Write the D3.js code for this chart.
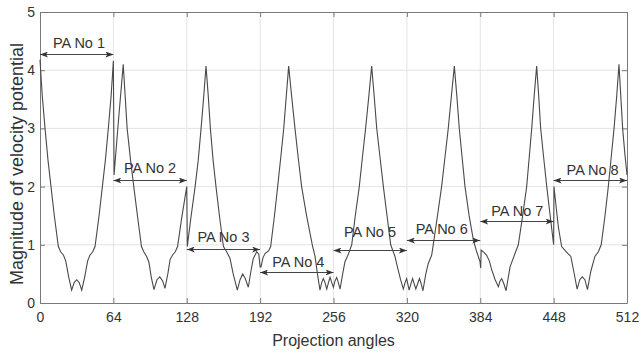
<!DOCTYPE html>
<html>
<head>
<meta charset="utf-8">
<script src="https://cdn.jsdelivr.net/npm/d3@7"></script>
<style>
  body { margin: 0; background: #fff; }
  text { font-family: "Liberation Sans", Arial, sans-serif; fill: #333; }
</style>
</head>
<body>
<div id="chart"></div>
<script>
var w = 641;
var h = 354;

// projection angle (x) and magnitude (y), vertex by vertex
var angles = [
  0, 2, 4.4, 7, 9.6, 12.5, 16, 18, 20.5, 22.5, 25, 27.6, 29.8, 32, 34.2, 36.4, 39, 41.5, 43.5, 46, 48, 51.5, 54.4, 57, 59.6, 62, 64,
  64.6, 68.5, 72.6, 76, 79, 81.8, 85, 88.5, 90.5, 93, 95, 97, 99.4, 102, 104.5, 107, 109, 111.5, 113.5, 115.5, 118, 120, 123.5, 128,
  128.5, 131.5, 135.3, 138, 140.5, 142.8, 144.8, 146.8, 148.6, 151, 153.5, 156.5, 160, 162.8, 165.7, 168.5, 172.1, 174.5, 176.8, 179, 181.7, 184, 186, 189, 190.8, 192,
  192.8, 194.5, 196.3, 199.5, 201.2, 204.5, 207.3, 210, 212.6, 214.8, 216.9, 219.5, 222.4, 225.2, 228.2, 232.5, 237.5, 239.9, 242, 244.2, 245.7, 247.1, 248.6, 250.1, 251.6, 253, 254.5, 255.9,
  257.3, 258.8, 260.2, 261.7, 264, 266, 269, 271.9, 275, 278.5, 281.2, 284, 286.8, 289.3, 291.5, 293.7, 296.6, 299.5, 302.7, 305.9, 309.6, 312, 314.5, 316.9, 318.4, 319.8,
  320.9, 322, 323.5, 325, 326.4, 327.8, 329.4, 331, 332.5, 334, 336.5, 338.7, 341.6, 343, 346.7, 350.3, 353.2, 356.1, 358.8, 361.4, 363.6, 365.7, 368.2, 370.7, 374.3, 378, 380.9, 383.8, 384.4,
  384.8, 387.2, 389.6, 392, 394, 397, 399.8, 401.3, 402.7, 404.6, 406.5, 410, 414.3, 417.2, 421, 424.5, 426.7, 428.9, 431, 433.2, 435, 436.7, 439.3, 442, 445, 448,
  448.3, 450.2, 452.1, 455, 459, 463, 465.5, 468.5, 470.8, 473, 475.3, 477.5, 480.5, 484, 487, 489.5, 492.8, 495.7, 498.2, 500.7, 503, 505, 506.6, 508.2, 510.2, 512
];
var magnitude = [
  4.18, 3.55, 3.0, 2.45, 2.0, 1.5, 0.97, 0.88, 0.82, 0.72, 0.45, 0.22, 0.35, 0.4, 0.35, 0.22, 0.45, 0.72, 0.82, 0.88, 0.97, 1.5, 2.0, 2.45, 3.0, 3.55, 4.16,
  2.2, 3.15, 4.1, 3.0, 2.45, 2.0, 1.5, 0.97, 0.88, 0.8, 0.7, 0.45, 0.23, 0.4, 0.45, 0.38, 0.25, 0.5, 0.75, 0.82, 0.88, 0.97, 1.45, 2.0,
  0.97, 1.45, 2.0, 2.45, 3.0, 3.55, 4.07, 3.55, 3.0, 2.45, 2.0, 1.5, 0.97, 0.88, 0.77, 0.5, 0.22, 0.4, 0.5, 0.42, 0.27, 0.55, 0.76, 0.88, 0.84, 0.62,
  0.62, 0.78, 0.85, 0.9, 0.97, 1.5, 2.0, 2.5, 3.0, 3.55, 4.07, 3.55, 3.0, 2.5, 2.0, 1.5, 1.0, 0.8, 0.5, 0.22, 0.35, 0.42, 0.35, 0.24, 0.35, 0.44, 0.35, 0.27,
  0.38, 0.44, 0.35, 0.24, 0.5, 0.71, 0.84, 1.0, 1.5, 2.0, 2.5, 3.0, 3.55, 4.07, 3.55, 3.0, 2.5, 2.0, 1.5, 1.0, 0.8, 0.6, 0.4, 0.24, 0.35, 0.42,
  0.32, 0.22, 0.33, 0.42, 0.33, 0.24, 0.33, 0.42, 0.33, 0.21, 0.5, 0.68, 0.82, 1.0, 1.5, 2.0, 2.5, 3.0, 3.55, 4.07, 3.55, 3.0, 2.5, 2.0, 1.5, 1.08, 0.88, 0.71, 0.6,
  0.91, 0.87, 0.82, 0.72, 0.57, 0.4, 0.28, 0.38, 0.42, 0.33, 0.21, 0.62, 0.85, 1.0, 1.5, 2.0, 2.5, 3.0, 3.55, 4.07, 3.55, 3.0, 2.5, 2.0, 1.5, 1.0,
  2.0, 1.65, 1.31, 0.97, 0.88, 0.8, 0.55, 0.24, 0.4, 0.45, 0.4, 0.23, 0.55, 0.8, 0.88, 1.0, 1.5, 2.0, 2.5, 3.0, 3.55, 4.1, 3.55, 3.0, 2.55, 2.2
];

var xTicks = [0, 64, 128, 192, 256, 320, 384, 448, 512];
var yTicks = [0, 1, 2, 3, 4, 5];

// PA annotations: span start/end angle, arrow level, label angle, label level
var paNames = ["PA No 1", "PA No 2", "PA No 3", "PA No 4", "PA No 5", "PA No 6", "PA No 7", "PA No 8"];
var paStart = [0, 64, 128, 192, 256, 320, 384, 448];
var paEnd = [64, 128, 192, 256, 320, 384, 448, 512];
var paLevel = [4.27, 2.12, 0.93, 0.54, 0.91, 1.08, 1.41, 2.11];
var paTextX = [34, 96, 160, 225.3, 287.8, 350.4, 416.3, 482];
var paTextY = [4.39, 2.23, 1.05, 0.62, 1.13, 1.19, 1.5, 2.2];

var svg = d3.select("#chart").append("svg").attr("width", w).attr("height", h);

var x = d3.scaleLinear().domain([0, 512]).range([40, 627]);
var y = d3.scaleLinear().domain([0, 5]).range([303, 12]);

// grid
svg.append("g").selectAll("line").data(xTicks.slice(1, -1)).enter().append("line")
  .attr("x1", function(d) { return x(d); }).attr("x2", function(d) { return x(d); })
  .attr("y1", y(0)).attr("y2", y(5))
  .attr("stroke", "#e3e3e3").attr("stroke-width", 1);
svg.append("g").selectAll("line").data(yTicks.slice(1, -1)).enter().append("line")
  .attr("y1", function(d) { return y(d); }).attr("y2", function(d) { return y(d); })
  .attr("x1", x(0)).attr("x2", x(512))
  .attr("stroke", "#e3e3e3").attr("stroke-width", 1);

// axes (matlab style: ticks inside, box all round)
var xAxis = d3.axisBottom(x).tickValues(xTicks).tickSizeInner(-5).tickSizeOuter(0).tickPadding(9).tickFormat(d3.format("d"));
var yAxis = d3.axisLeft(y).tickValues(yTicks).tickSizeInner(-5).tickSizeOuter(0).tickPadding(5).tickFormat(d3.format("d"));
var gx = svg.append("g").attr("transform", "translate(0," + y(0) + ")").call(xAxis);
var gy = svg.append("g").attr("transform", "translate(" + x(0) + ",0)").call(yAxis);
var gx2 = svg.append("g").attr("transform", "translate(0," + y(5) + ")")
  .call(d3.axisTop(x).tickValues(xTicks).tickSizeInner(-5).tickSizeOuter(0).tickFormat(""));
var gy2 = svg.append("g").attr("transform", "translate(" + x(512) + ",0)")
  .call(d3.axisRight(y).tickValues(yTicks).tickSizeInner(-5).tickSizeOuter(0).tickFormat(""));

[gx, gy, gx2, gy2].forEach(function(g) {
  g.select(".domain").attr("stroke", "#7a7a7a");
  g.selectAll(".tick line").attr("stroke", "#7a7a7a");
  g.selectAll("text").attr("font-size", 14).attr("fill", "#333")
    .attr("font-family", "Liberation Sans, Arial, sans-serif");
});

// the curve
var line = d3.line().x(function(d) { return x(d[0]); }).y(function(d) { return y(d[1]); });
var pts = angles.map(function(a, i) { return [a, magnitude[i]]; });
svg.append("path").datum(pts).attr("d", line)
  .attr("fill", "none").attr("stroke", "#4a4a4a").attr("stroke-width", 1.1);

// arrow heads
var defs = svg.append("defs");
defs.append("marker").attr("id", "arr")
  .attr("viewBox", "0 0 8 6").attr("refX", 8).attr("refY", 3)
  .attr("markerWidth", 8).attr("markerHeight", 6)
  .attr("markerUnits", "userSpaceOnUse").attr("orient", "auto-start-reverse")
  .append("path").attr("d", "M0,0 L8,3 L0,6 L2,3 z").attr("fill", "#333");

for (var i = 0; i < paNames.length; i = i + 1) {
  svg.append("line")
    .attr("x1", x(paStart[i])).attr("x2", x(paEnd[i]))
    .attr("y1", Math.round(y(paLevel[i])) + 0.5).attr("y2", Math.round(y(paLevel[i])) + 0.5)
    .attr("stroke", "#444").attr("stroke-width", 1)
    .attr("marker-start", "url(#arr)").attr("marker-end", "url(#arr)");
  svg.append("text").text(paNames[i])
    .attr("x", x(paTextX[i])).attr("y", y(paTextY[i]))
    .attr("text-anchor", "middle").attr("font-size", 14.5).attr("fill", "#222");
}

// axis titles
svg.append("text").text("Projection angles")
  .attr("x", 333.5).attr("y", 346).attr("text-anchor", "middle").attr("font-size", 16);
svg.append("text").text("Magnitude of velocity potential")
  .attr("transform", "translate(23,164) rotate(-90)")
  .attr("text-anchor", "middle").attr("font-size", 18);
</script>
</body>
</html>
